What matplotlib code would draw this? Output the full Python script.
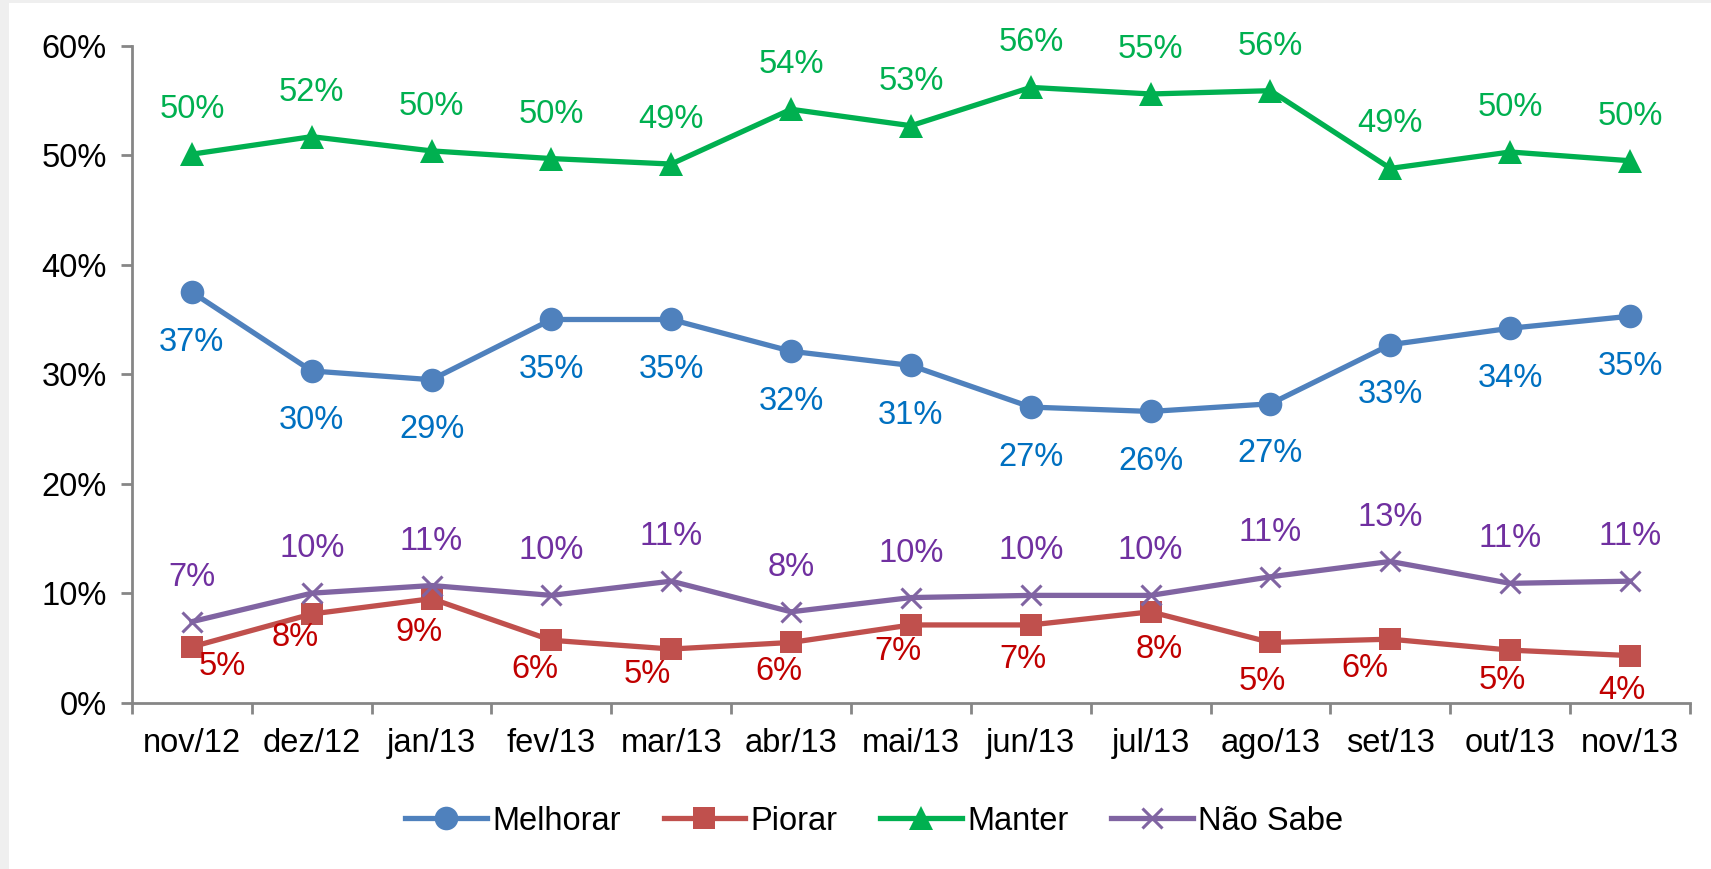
import matplotlib
matplotlib.use("Agg")
import matplotlib.pyplot as plt
from matplotlib.patches import Rectangle
from matplotlib.ticker import FixedLocator, PercentFormatter

plt.rcParams['font.family'] = ['Liberation Sans', 'DejaVu Sans']

# data
months = ["nov/12", "dez/12", "jan/13", "fev/13", "mar/13", "abr/13", "mai/13",
          "jun/13", "jul/13", "ago/13", "set/13", "out/13", "nov/13"]
melhorar = [37.5, 30.3, 29.5, 35.0, 35.0, 32.1, 30.8, 27.0, 26.6, 27.3, 32.7, 34.2, 35.3]
piorar = [5.1, 8.1, 9.5, 5.7, 4.9, 5.5, 7.1, 7.1, 8.3, 5.5, 5.8, 4.8, 4.3]
manter = [50.1, 51.7, 50.4, 49.7, 49.2, 54.2, 52.7, 56.2, 55.6, 55.9, 48.8, 50.3, 49.5]
nao_sabe = [7.4, 10.0, 10.7, 9.8, 11.1, 8.3, 9.6, 9.8, 9.8, 11.5, 12.9, 10.9, 11.1]

# label texts as printed on the chart
melhorar_lbl = [37, 30, 29, 35, 35, 32, 31, 27, 26, 27, 33, 34, 35]
piorar_lbl = [5, 8, 9, 6, 5, 6, 7, 7, 8, 5, 6, 5, 4]
manter_lbl = [50, 52, 50, 50, 49, 54, 53, 56, 55, 56, 49, 50, 50]
nao_sabe_lbl = [7, 10, 11, 10, 11, 8, 10, 10, 10, 11, 13, 11, 11]

# hand placed offsets (points) for the Piorar labels
piorar_off = [(22, -14), (-12, -17), (-9, -24), (-12, -21), (-17, -18), (-9, -21),
              (-9, -19), (-6, -25), (6, -27), (-6, -28), (-18, -21), (-6, -22), (-6, -25)]

fig = plt.figure(figsize=(17.11, 8.69), dpi=100)
fig.patch.set_facecolor('#efefef')
fig.add_artist(Rectangle((0.005, 0), 0.995, 0.996, transform=fig.transFigure,
                         facecolor='white', edgecolor='none', zorder=-10))
ax = fig.add_axes([0.0771, 0.1914, 0.9106, 0.7559])
ax.set_facecolor('none')

x = list(range(len(months)))
fs = 23.5
series = [
    ("Melhorar", melhorar, melhorar_lbl, '#4F81BD', '#0070C0', 'o', 17),
    ("Piorar", piorar, piorar_lbl, '#C0504D', '#C00000', 's', 16),
    ("Manter", manter, manter_lbl, '#00B050', '#00B050', '^', 17),
    ("Não Sabe", nao_sabe, nao_sabe_lbl, '#8064A2', '#7030A0', 'x', 15),
]
for name, vals, lbls, col, tcol, mk, ms in series:
    ax.plot(x, vals, color=col, lw=3.8, marker=mk, markersize=ms,
            markeredgewidth=2.2 if mk == 'x' else 0, markeredgecolor=col,
            label=name, clip_on=False, zorder=3)
    for i, (v, l) in enumerate(zip(vals, lbls)):
        if name == "Melhorar":
            off = (0, -36)
        elif name == "Piorar":
            off = piorar_off[i]
        else:
            off = (0, 32)
        ax.annotate(f"{l}%", (i, v), xytext=off, textcoords='offset points',
                    ha='center', va='center', color=tcol, fontsize=fs, zorder=4)

ax.set_xlim(-0.5, len(months) - 0.5)
ax.set_ylim(0, 60)
ax.set_yticks(range(0, 61, 10))
ax.yaxis.set_major_formatter(PercentFormatter(decimals=0))
ax.set_xticks(x)
ax.set_xticklabels(months)
ax.xaxis.set_minor_locator(FixedLocator([i - 0.5 for i in range(len(months) + 1)]))
ax.tick_params(axis='x', which='major', length=0, pad=18.5, labelsize=fs)
ax.tick_params(axis='x', which='minor', length=8, width=2, color='#868686')
ax.tick_params(axis='y', length=8, width=2, color='#868686', pad=10, labelsize=fs)
for s in ['top', 'right']:
    ax.spines[s].set_visible(False)
for s in ['left', 'bottom']:
    ax.spines[s].set_color('#868686')
    ax.spines[s].set_linewidth(2)

fig.legend(loc='center', bbox_to_anchor=(0.511, 0.055), ncol=4, frameon=False,
           fontsize=fs, handlelength=2.5, handletextpad=0.17, columnspacing=1.3)

fig.savefig("out.png", dpi=100)
